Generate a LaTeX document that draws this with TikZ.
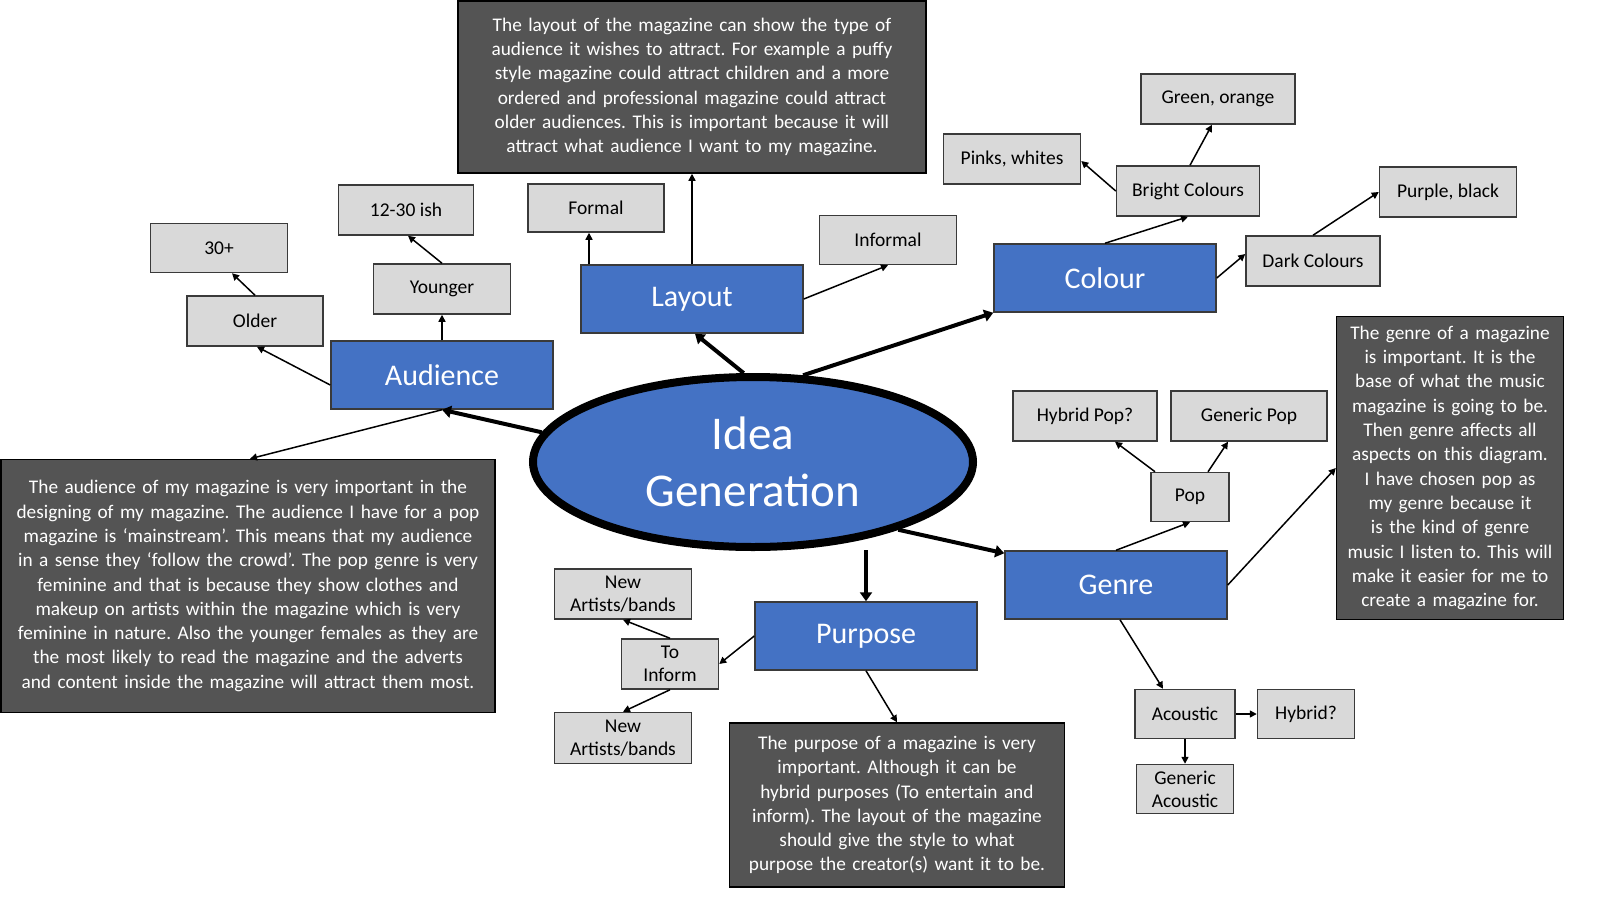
\documentclass[tikz,border=0pt]{standalone}
\usepackage{fontspec}
\setmainfont{Carlito}
\usetikzlibrary{arrows.meta,shapes.geometric,calc}
\definecolor{bl}{HTML}{4472C4}
\definecolor{dk}{HTML}{545454}
\definecolor{lg}{HTML}{D9D9D9}
\definecolor{bd}{HTML}{3A3A3A}
\frenchspacing
\hyphenpenalty=10000
\exhyphenpenalty=10000
\tikzset{
 gbox/.style={draw=bd,line width=1.5pt,fill=lg,align=center,font=\fontsize{19.5}{23}\selectfont,inner sep=0pt},
 bbox/.style={draw=bd,line width=1.5pt,fill=bl,text=white,font=\fontsize{30}{34}\selectfont,minimum width=222pt,minimum height=68pt,inner sep=0pt},
 dbox/.style={draw=black,line width=1.5pt,fill=dk,text=white,align=center,font=\fontsize{19.3}{24.3}\selectfont,inner sep=0pt},
 tn/.style={line width=1.5pt,-{Triangle[length=7pt,width=7pt]}},
 tk/.style={line width=4pt,-{Triangle[length=9pt,width=12pt]}}
}
\newcommand{\gb}[6]{\node[gbox,minimum width=#4pt,minimum height=#5pt] (#1) at (#2,#3) {#6};}
\begin{document}
\begin{tikzpicture}[x=1pt,y=-1pt]
\fill[white] (0,0) rectangle (1600,908);
% main ellipse
\node[ellipse,draw=black,line width=8pt,fill=bl,minimum width=440pt,minimum height=170pt,inner sep=0pt,text=white,align=center,font=\fontsize{47}{57}\selectfont] (ell) at (753,462) {Idea\\Generation};
% blue boxes
\node[bbox] (aud) at (442,375) {Audience};
\node[bbox] (lay) at (692,299) {Layout};
\node[bbox] (col) at (1105,278) {Colour};
\node[bbox] (gen) at (1116,585) {Genre};
\node[bbox] (pur) at (866,636) {Purpose};
% dark text boxes
\node[dbox,minimum width=468pt,minimum height=172pt,text width=420pt] (ttop) at (692,87) {The layout of the magazine can show the type of audience it wishes to attract. For example a puffy style magazine could attract children and a more ordered and professional magazine could attract older audiences. This is important because it will attract what audience I want to my magazine.};
\node[dbox,minimum width=494pt,minimum height=253pt,text width=472pt] (taud) at (248,586) {The audience of my magazine is very important in the designing of my magazine. The audience I have for a pop magazine is ‘mainstream’. This means that my audience in a sense they ‘follow the crowd’. The pop genre is very feminine and that is because they show clothes and makeup on artists within the magazine which is very feminine in nature. Also the younger females as they are the most likely to read the magazine and the adverts and content inside the magazine will attract them most.};
\node[dbox,minimum width=227pt,minimum height=303pt,text width=212pt] (tgen) at (1450,468) {The genre of a magazine is important. It is the base of what the music magazine is going to be. Then genre affects all aspects on this diagram. I have chosen pop as my genre because it is the kind of genre music I listen to. This will make it easier for me to create a magazine for.};
\node[dbox,minimum width=335pt,minimum height=164pt,text width=305pt] (tpur) at (897,805) {The purpose of a magazine is very important. Although it can be hybrid purposes (To entertain and inform). The layout of the magazine should give the style to what purpose the creator(s) want it to be.};
% gray boxes
\gb{thirty}{219}{248}{137}{49}{30+}
\gb{twelve}{406}{210}{135}{50}{12-30 ish}
\gb{young}{442}{289}{137}{50}{Younger}
\gb{old}{255}{321}{136}{50}{Older}
\gb{formal}{596}{208}{136}{48}{Formal}
\gb{informal}{888}{240}{137}{49}{Informal}
\gb{pinks}{1012}{159}{137}{50}{Pinks, whites}
\gb{green}{1218}{99}{154}{50}{Green, orange}
\gb{bright}{1188}{191}{143}{50}{Bright Colours}
\gb{purple}{1448}{192}{137}{50}{Purple, black}
\gb{dark}{1313}{261}{134}{50}{Dark Colours}
\gb{hpop}{1085}{416}{144}{50}{Hybrid Pop?}
\gb{gpop}{1249}{416}{156}{50}{Generic Pop}
\gb{pop}{1190}{497}{78}{49}{Pop}
\gb{acou}{1185}{714}{100}{49}{Acoustic}
\gb{hyb}{1306}{714}{97}{49}{Hybrid?}
\gb{gacou}{1185}{789}{97}{49}{Generic\\Acoustic}
\gb{newa}{623}{594}{137}{50}{New\\Artists/bands}
\gb{inform}{670}{664}{97}{50}{To\\Inform}
\gb{newb}{623}{738}{137}{51}{New\\Artists/bands}
% thick connectors
\draw[tk] (ell.172) -- (aud.south);
\draw[tk] (ell.96) -- ([xshift=3pt]lay.south);
\draw[tk] (ell.60) -- (col.south west);
\draw[tk] (ell.-25) -- ([yshift=-3pt]gen.north west);
\draw[tk] (866,550) -- (pur.north);
% thin connectors
\draw[tn] ([yshift=-10pt]aud.west) -- ([xshift=2pt]old.south);
\draw[tn] (old.north) -- ([xshift=13pt]thirty.south);
\draw[tn] (aud.north) -- (young.south);
\draw[tn] (young.north) -- ([xshift=2pt]twelve.south);
\draw[tn] (aud.south) -- ([xshift=2pt]taud.north);
\draw[tn] ([xshift=-103pt]lay.north) -- ([xshift=-7pt]formal.south);
\draw[tn] (lay.north) -- (ttop.south);
\draw[tn] (lay.east) -- (informal.south);
\draw[tn] (col.north) -- (bright.south);
\draw[tn] (bright.west) -- ([yshift=-2pt]pinks.east);
\draw[tn] ([xshift=2pt]bright.north) -- ([xshift=-6pt]green.south);
\draw[tn] (col.east) -- ([yshift=7pt]dark.west);
\draw[tn] (dark.north) -- (purple.west);
\draw[tn] (gen.north) -- (pop.south);
\draw[tn] ([xshift=-35pt]pop.north) -- ([xshift=30pt]hpop.south);
\draw[tn] ([xshift=18pt]pop.north) -- ([xshift=-21pt]gpop.south);
\draw[tn] (gen.east) -- (tgen.west);
\draw[tn] ([xshift=4pt]gen.south) -- ([xshift=-22pt]acou.north);
\draw[tn] (acou.east) -- (hyb.west);
\draw[tn] (acou.south) -- (gacou.north);
\draw[tn] (pur.west) -- (inform.east);
\draw[tn] (inform.north) -- (newa.south);
\draw[tn] (inform.south) -- (newb.north);
\draw[tn] (pur.south) -- (tpur.north);
\pgfresetboundingbox
\useasboundingbox (0,0) rectangle (1600,908);
\end{tikzpicture}
\end{document}
